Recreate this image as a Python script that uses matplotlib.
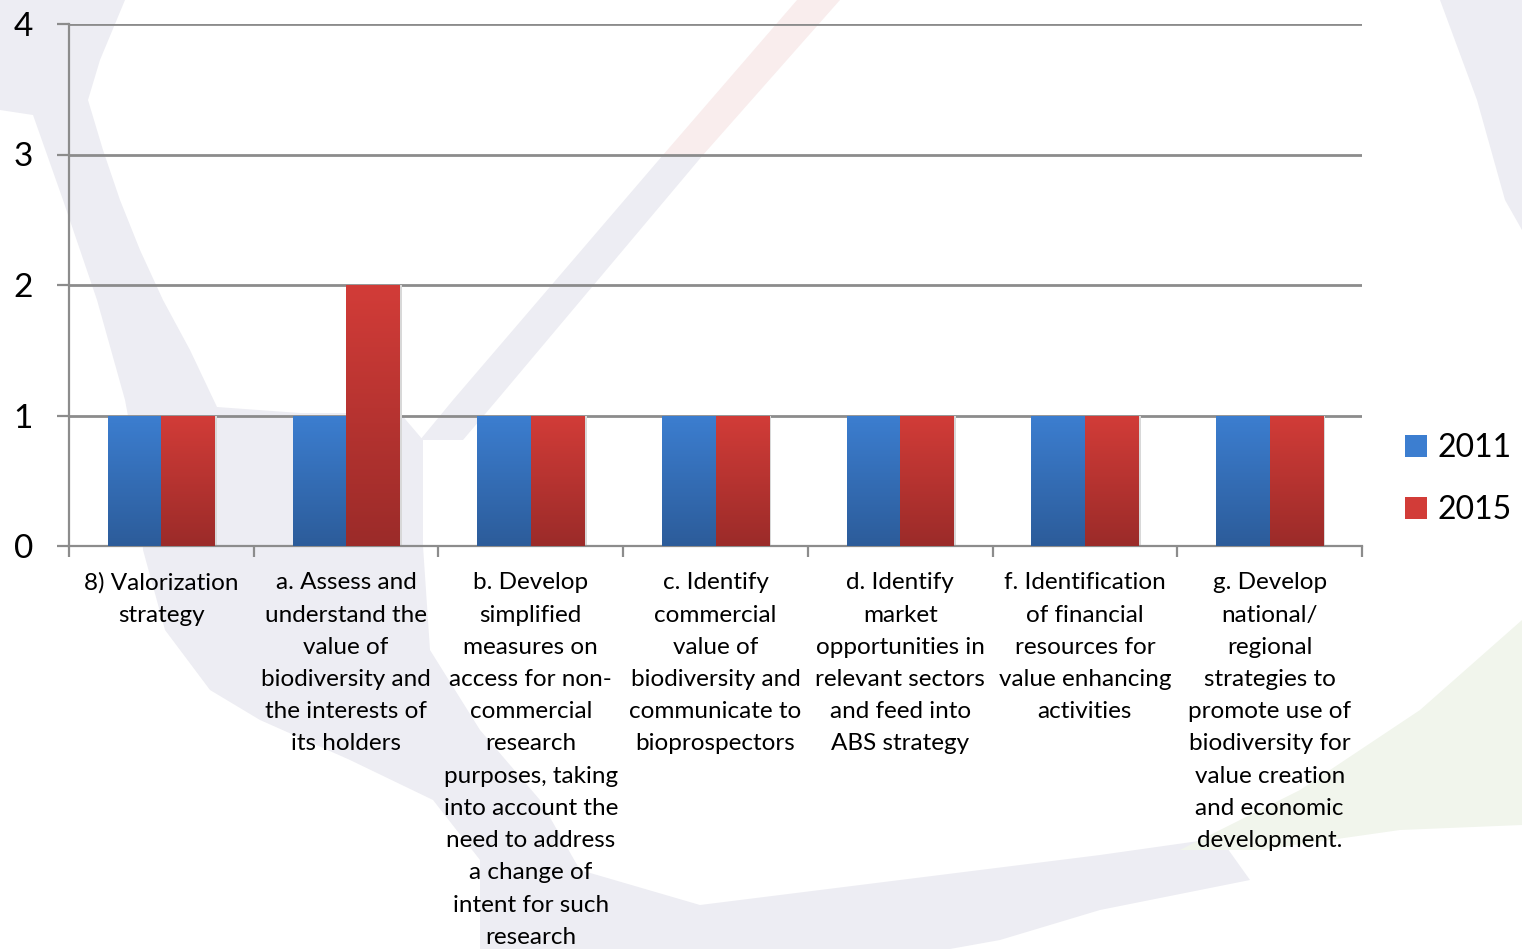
import numpy as np
import matplotlib
matplotlib.use("Agg")
import matplotlib.pyplot as plt
from matplotlib.patches import Polygon, Patch
from matplotlib.colors import LinearSegmentedColormap

# data
categories = [
    "8) Valorization\nstrategy",
    "a. Assess and\nunderstand the\nvalue of\nbiodiversity and\nthe interests of\nits holders",
    "b. Develop\nsimplified\nmeasures on\naccess for non-\ncommercial\nresearch\npurposes, taking\ninto account the\nneed to address\na change of\nintent for such\nresearch",
    "c. Identify\ncommercial\nvalue of\nbiodiversity and\ncommunicate to\nbioprospectors",
    "d. Identify\nmarket\nopportunities in\nrelevant sectors\nand feed into\nABS strategy",
    "f. Identification\nof financial\nresources for\nvalue enhancing\nactivities",
    "g. Develop\nnational/\nregional\nstrategies to\npromote use of\nbiodiversity for\nvalue creation\nand economic\ndevelopment.",
]
series_names = ["2011", "2015"]
values_2011 = [1, 1, 1, 1, 1, 1, 1]
values_2015 = [1, 2, 1, 1, 1, 1, 1]
y_ticks = [0, 1, 2, 3, 4]

FONT = "Lato"
grad_colors = {
    "2011": ("#3C7ED0", "#2C5C9A"),
    "2015": ("#D23C38", "#9B2B29"),
}

fig = plt.figure(figsize=(15.22, 9.49), dpi=100)
fig.patch.set_facecolor("white")

# faint watermark swooshes in the background (pixel coords from top-left)
W, H = 1522, 949
def fpoly(pts, color):
    pts = [(px / W, 1 - py / H) for px, py in pts]
    fig.patches.append(Polygon(pts, closed=True, transform=fig.transFigure,
                               facecolor=color, edgecolor="none", zorder=0))

wm_gray = "#EDEDF3"
fpoly([(0, 0), (125, 0), (100, 60), (88, 100), (103, 150), (120, 200), (140, 250),
       (163, 300), (190, 350), (217, 407), (300, 413), (400, 413), (423, 440),
       (423, 546), (430, 650), (480, 730), (540, 800), (580, 870), (700, 905),
       (900, 880), (1100, 855), (1220, 838), (1250, 880), (1100, 910), (1000, 940),
       (950, 949), (480, 949), (480, 860), (433, 800), (350, 760), (260, 720),
       (210, 690), (165, 630), (143, 550), (140, 480), (125, 400), (97, 300),
       (63, 200), (33, 115), (0, 110)], wm_gray)
fpoly([(420, 440), (463, 440), (497, 400), (703, 155), (663, 155), (453, 400)], wm_gray)
fpoly([(663, 155), (703, 155), (840, 0), (797, 0)], "#F9EDED")
fpoly([(1440, 0), (1522, 0), (1522, 230), (1505, 200), (1477, 100)], wm_gray)
fpoly([(1180, 850), (1300, 790), (1420, 710), (1522, 620), (1522, 825),
       (1400, 830), (1260, 850)], "#F1F5EC")

ax = fig.add_axes([69 / W, 1 - 546 / H, (1362 - 69) / W, (546 - 24) / H])
ax.set_facecolor("none")
ax.set_zorder(2)

x = np.arange(len(categories))
bw = 0.29
bars_a = ax.bar(x - bw / 2, values_2011, bw, color=grad_colors["2011"][0], zorder=3)
bars_b = ax.bar(x + bw / 2, values_2015, bw, color=grad_colors["2015"][0], zorder=3)

# vertical gradient fill on each bar
grad = np.linspace(1, 0, 256).reshape(-1, 1)
for name, bars in zip(series_names, [bars_a, bars_b]):
    top, bot = grad_colors[name]
    cmap = LinearSegmentedColormap.from_list(name, [bot, top])
    for b in bars:
        bx, by = b.get_x(), b.get_y()
        w, h = b.get_width(), b.get_height()
        # light shadow on right side
        ax.add_patch(plt.Rectangle((bx + w, by), 0.012, h, color="#D8D8D8",
                                   zorder=2.5, lw=0))
        im = ax.imshow(grad, extent=[bx, bx + w, by, by + h], aspect="auto",
                       cmap=cmap, vmin=0, vmax=1, zorder=3.5, origin="upper")
        im.set_clip_path(b)
        b.set_facecolor("none")
ax.set_xlim(-0.5, len(categories) - 0.5)
ax.set_ylim(0, 4)

grid_c = "#8C8C8C"
ax.set_yticks(y_ticks)
ax.yaxis.grid(True, color=grid_c, linewidth=2)
ax.set_axisbelow(True)
for s in ["top", "right"]:
    ax.spines[s].set_visible(False)
for s in ["left", "bottom"]:
    ax.spines[s].set_color(grid_c)
    ax.spines[s].set_linewidth(1.6)
ax.tick_params(axis="y", length=9, width=1.6, color=grid_c, pad=17,
               labelsize=24)
for t in ax.get_yticklabels():
    t.set_fontfamily(FONT)

ax.set_xticks(x)
ax.set_xticklabels(categories, fontsize=17.5, fontfamily=FONT, linespacing=1.66,
                   va="top")
ax.tick_params(axis="x", length=0, pad=19)
ax.set_xticks(np.arange(len(categories) + 1) - 0.5, minor=True)
ax.tick_params(axis="x", which="minor", length=8, width=1.6, color=grid_c)

handles = [Patch(facecolor=grad_colors[n][0], edgecolor="none") for n in series_names]
fig.legend(handles, series_names, loc="center left",
           bbox_to_anchor=(1405 / W, 1 - 479 / H),
           frameon=False, prop={"family": FONT, "size": 23},
           handlelength=0.68, handleheight=0.68, handletextpad=0.35,
           labelspacing=1.0, borderpad=0, borderaxespad=0)

fig.savefig("out.png", dpi=100)
